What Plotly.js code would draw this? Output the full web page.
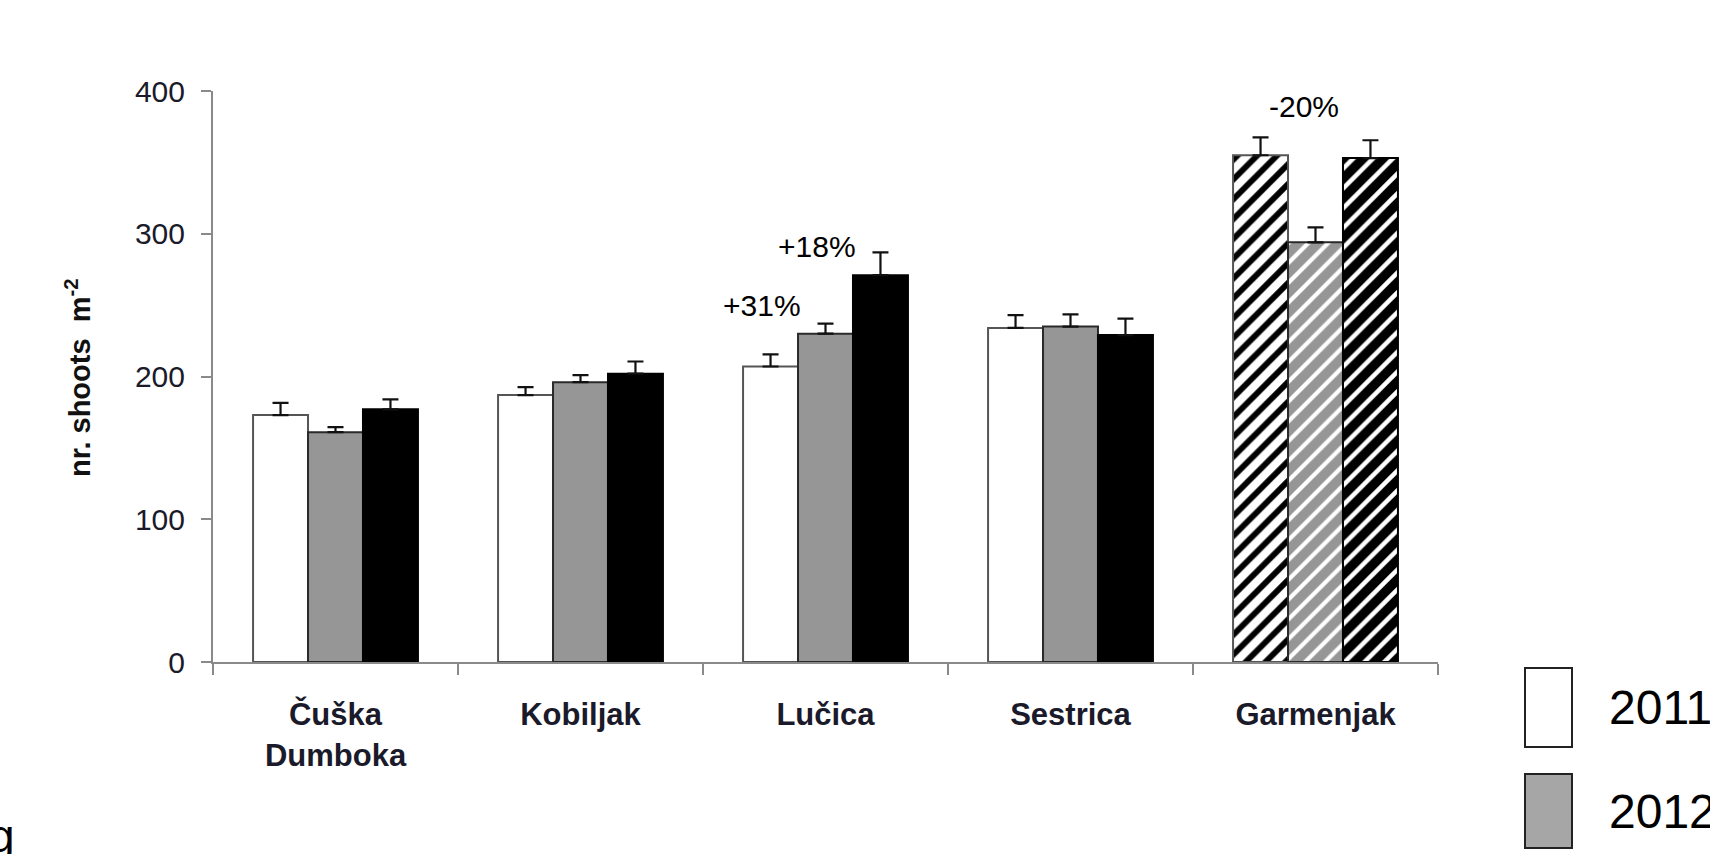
<!DOCTYPE html>
<html>
<head>
<meta charset="utf-8">
<script src="https://cdn.plot.ly/plotly-3.0.1.min.js"></script>
<style>
  html, body { margin: 0; padding: 0; background: #ffffff; }
  #chart { width: 1710px; height: 854px; }
</style>
</head>
<body>
<div id="chart"></div>
<script>
// Shoot density per site and year (mean + standard error)
const categories = ['Čuška<br>Dumboka', 'Kobiljak', 'Lučica', 'Sestrica', 'Garmenjak'];
const years = ['2011', '2012', '2013'];
const shoots2011 = [173, 187, 207, 234, 355];
const shoots2012 = [161, 196, 230, 235, 294];
const shoots2013 = [177, 202, 271, 229, 353];
const se2011 = [8.5, 5.5, 8.5, 9, 12.5];
const se2012 = [3.5, 5, 7, 8.5, 10.5];
const se2013 = [7, 8.5, 16, 11.5, 12.5];
const yTicks = [0, 100, 200, 300, 400];

// Percentage change labels
const changeText = ['+31%', '+18%', '-20%'];
const changeSite = [2, 2, 4];
const changeLevel = [250, 291, 389];

// Plot area geometry (px) used to place the hand-drawn legend
const W = 1710, H = 854;
const M = { l: 213, r: 272, t: 91, b: 192 };
const plotW = W - M.l - M.r, plotH = H - M.t - M.b;
const px2x = px => (px - M.l) / plotW;
const px2y = py => (H - M.b - py) / plotH;

const fills = ['#ffffff', '#969696', '#000000'];
const outlines = ['#555555', '#2a2a2a', '#000000'];
const hatchFg = ['#000000', '#ffffff', '#ffffff'];
const hatchSolidity = [0.42, 0.3, 0.32];
const values = [shoots2011, shoots2012, shoots2013];
const errors = [se2011, se2012, se2013];
const hatched = categories.map(c => c === 'Garmenjak' ? '/' : '');

const traces = years.map((yr, i) => ({
  type: 'bar',
  name: yr,
  x: categories,
  y: values[i],
  showlegend: false,
  marker: {
    color: fills[i],
    line: { color: outlines[i], width: 2 },
    pattern: {
      shape: hatched,
      fgcolor: hatchFg[i],
      bgcolor: fills[i],
      size: 14,
      solidity: hatchSolidity[i],
      fillmode: 'replace'
    }
  },
  error_y: {
    type: 'data',
    symmetric: false,
    array: errors[i],
    arrayminus: errors[i].map(() => 0),
    color: '#111111',
    thickness: 2.2,
    width: 8
  },
  hoverinfo: 'x+y'
}));

const annotations = [];
const xOffsets = [-0.26, -0.036, -0.047];
changeText.forEach((t, k) => {
  annotations.push({
    x: changeSite[k] + xOffsets[k], y: changeLevel[k],
    xref: 'x', yref: 'y', text: t, showarrow: false,
    font: { family: 'Liberation Sans, Arial, sans-serif', size: 30, color: '#000' },
    xanchor: 'center', yanchor: 'middle'
  });
});

// y-axis title
annotations.push({
  x: px2x(78), y: px2y(378), xref: 'paper', yref: 'paper',
  text: '<b>nr. shoots  m<sup>-2</sup></b>', textangle: -90, showarrow: false,
  font: { family: 'Liberation Sans, Arial, sans-serif', size: 29, color: '#111' },
  xanchor: 'center', yanchor: 'middle'
});

// legend
const legendTop = [668, 774];
const legendBottom = [747, 848];
const legendFill = ['#ffffff', '#a6a6a6'];
const shapes = [];
legendTop.forEach((top, k) => {
  shapes.push({
    type: 'rect', xref: 'paper', yref: 'paper',
    x0: px2x(1525), x1: px2x(1572), y0: px2y(legendBottom[k]), y1: px2y(top),
    fillcolor: legendFill[k], line: { color: '#222', width: 2 }
  });
  annotations.push({
    x: px2x(1607), y: px2y((top + legendBottom[k]) / 2), xref: 'paper', yref: 'paper',
    text: years[k], showarrow: false, xanchor: 'left', yanchor: 'middle',
    font: { family: 'Liberation Sans, Arial, sans-serif', size: 48, color: '#000' }
  });
});

// partial caption letter at the lower left
annotations.push({
  x: px2x(17), y: px2y(836), xref: 'paper', yref: 'paper',
  text: 'g', showarrow: false, xanchor: 'right', yanchor: 'middle',
  font: { family: 'Liberation Sans, Arial, sans-serif', size: 46, color: '#000' }
});

const layout = {
  width: W, height: H,
  margin: M,
  paper_bgcolor: '#ffffff', plot_bgcolor: '#ffffff',
  barmode: 'group', bargap: 0.327, bargroupgap: 0,
  showlegend: false,
  xaxis: {
    type: 'category',
    tickson: 'boundaries',
    ticks: 'outside', ticklen: 11, tickwidth: 2, tickcolor: '#8a8a8a',
    showline: true, linecolor: '#8a8a8a', linewidth: 2,
    showgrid: false, zeroline: false,
    ticklabelstandoff: 24,
    tickfont: { family: 'Liberation Sans, Arial, sans-serif', size: 31, color: '#1a1a2a', weight: 'bold' }
  },
  yaxis: {
    range: [0, 400],
    tickvals: yTicks,
    ticks: 'outside', ticklen: 10, tickwidth: 2, tickcolor: '#8a8a8a',
    showline: true, linecolor: '#8a8a8a', linewidth: 2,
    showgrid: false, zeroline: false,
    ticklabelstandoff: 10,
    tickfont: { family: 'Liberation Sans, Arial, sans-serif', size: 30, color: '#1a1a2a' }
  },
  annotations: annotations,
  shapes: shapes
};

Plotly.newPlot('chart', traces, layout, { displayModeBar: false, staticPlot: true });
</script>
</body>
</html>
